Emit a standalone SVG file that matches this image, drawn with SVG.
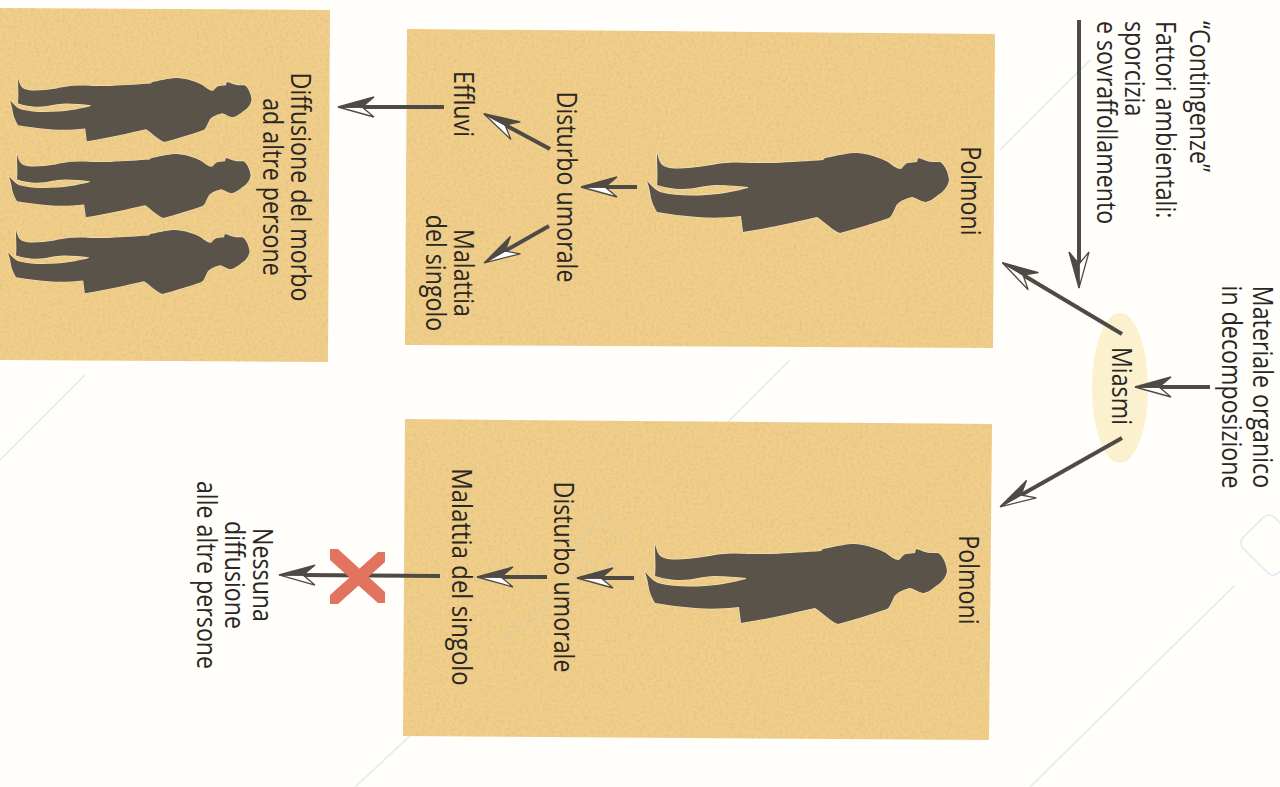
<svg xmlns="http://www.w3.org/2000/svg" width="1280" height="787" viewBox="0 0 1280 787">
<style>
.panel{fill:#f1cf8a;filter:url(#grain)}
.t{font-family:"Open Sans","Noto Sans",sans-serif;font-size:23.2px;fill:#2a2622;text-anchor:middle}
.ts{text-anchor:start}
.c{fill:none;stroke:#4f4a44;stroke-width:4;marker-end:url(#head)}
.wm{fill:none;stroke:#dfeaf1;stroke-width:1.5}
.wmp{fill:none;stroke:#c9d3c0;stroke-width:1.5;opacity:.5}
</style>
<defs>
<filter id="grain" x="0" y="0" width="100%" height="100%">
<feTurbulence type="fractalNoise" baseFrequency="0.35" numOctaves="3" seed="4" result="n"/>
<feColorMatrix in="n" type="matrix" values="0 0 0 0 .62  0 0 0 0 .45  0 0 0 0 .2  0 0 0 .9 -.36" result="g"/>
<feComposite in="g" in2="SourceGraphic" operator="in" result="gc"/>
<feMerge><feMergeNode in="SourceGraphic"/><feMergeNode in="gc"/></feMerge>
</filter>
<marker id="head" markerUnits="userSpaceOnUse" markerWidth="40" markerHeight="26" viewBox="-1 -3 40 26" refX="12" refY="10" orient="auto">
<path d="M36,10 L0,0 L12,10 Z" fill="#fff" stroke="#4f4a44" stroke-width="1.3"/>
<path d="M36,10 L0,20 L12,10 Z" fill="#4f4a44" stroke="#4f4a44" stroke-width="1.3"/>
</marker>
<path id="person" fill="#5a5349" stroke="#f8e8c4" stroke-width="1.2" paint-order="stroke" d="M657,153 C659,160 660,165 666,167 C675,170 690,168 705,166 C725,162 735,162 750,163 L773,163 C790,162 810,161 823,160 L825,158 C840,155 848,153 857,153 C870,154 880,158 888,162 C893,166 897,169 901,169 C904,166 906,163 908,163 L917,162 L918,158 C923,159 928,162 932,162 L940,162 C945,165 948,172 949,180 C948,187 943,192 938,195 C932,200 928,202 925,202 C920,201 916,198 912,197 C904,199 898,202 896,206 C893,212 892,216 889,218 C872,224 855,229 840,233 C832,230 825,222 817,217 C795,222 770,228 743,232 L741,216 C725,218 710,218 697,217 C683,216 670,214 657,212 C653,205 651,200 650,192 C649,187 648,184 647,181 C651,185 655,190 660,192 C675,196 692,196 707,195 C722,194 737,191 748,188 L748,187 C738,186 727,185 717,185 C705,185 695,189 683,189 C672,189 664,187 657,185 C658,175 657,165 657,153 Z"/>
</defs>
<rect width="1280" height="787" fill="#fffefb"/>
<g id="watermark">
<path class="wm" d="M0,460 L85,375 M1000,150 L1090,60 M620,530 L790,360 M1030,787 L1235,585 M355,787 L470,680 M640,215 L700,155 M860,280 L910,230"/>
<rect class="wm" x="1246" y="523" width="50" height="44" rx="8" transform="rotate(45 1271 545)"/>
</g>
<g id="panel-top"><polygon class="panel" points="407,29 995,34 993,348 405,345"/></g>
<g id="panel-bottom"><polygon class="panel" points="405,419 992,424 989,740 403,736"/></g>
<g id="panel-left"><polygon class="panel" points="0,8 330,10 328,362 0,360"/></g>
<g id="watermark-panel">
<rect class="wmp" x="580" y="525" width="44" height="40" rx="8" transform="rotate(-45 602 545)"/>
<path class="wmp" d="M503,640 L580,570"/>
</g>
<g id="person-top"><use href="#person"/></g>
<g id="person-bottom"><use href="#person" transform="translate(-2,391)"/></g>
<g id="people-left">
<use href="#person" transform="translate(-507.6,-44.4) scale(.8)"/>
<use href="#person" transform="translate(-508.6,31.6) scale(.8)"/>
<use href="#person" transform="translate(-509.6,107.6) scale(.8)"/>
</g>
<g id="miasmi"><ellipse cx="1120" cy="388" rx="28" ry="75" fill="#fbf1cf"/><text class="t" transform="translate(1112,386) rotate(90) scale(1,1.15)">Miasmi</text></g>
<g id="connectors">
<line class="c" x1="1079" y1="20" x2="1079" y2="264"/>
<line class="c" x1="1210" y1="387" x2="1159" y2="387"/>
<line class="c" x1="1122" y1="334" x2="1023" y2="275"/>
<line class="c" x1="1122" y1="438" x2="1021" y2="495"/>
<line class="c" x1="637" y1="187" x2="605" y2="187"/>
<line class="c" x1="550" y1="149" x2="505" y2="125"/>
<line class="c" x1="549" y1="226" x2="505" y2="251"/>
<line class="c" x1="444" y1="107" x2="362" y2="107"/>
<line class="c" x1="634" y1="578" x2="601" y2="578"/>
<line class="c" x1="547" y1="577" x2="501" y2="577"/>
<line class="c" x1="440" y1="576" x2="303" y2="575"/>
</g>
<g id="cross" fill="#e2735f">
<polygon points="330,549 338,549 385,592 385,603 378,603 330,560"/>
<polygon points="330,595 378,552 385,552 385,562 338,604 330,604"/>
</g>
<g id="label-contingenze">
<text class="t ts" transform="translate(1190,21) rotate(90) scale(1,1.15)">“Contingenze”</text>
<text class="t ts" transform="translate(1156,21) rotate(90) scale(1,1.15)">Fattori ambientali:</text>
<text class="t ts" transform="translate(1125,21) rotate(90) scale(1,1.15)">sporcizia</text>
<text class="t ts" transform="translate(1097,21) rotate(90) scale(1,1.15)">e sovraffollamento</text>
</g>
<g id="label-materiale">
<text class="t" transform="translate(1253,387) rotate(90) scale(1,1.15)">Materiale organico</text>
<text class="t" transform="translate(1222,387) rotate(90) scale(1,1.15)">in decomposizione</text>
</g>
<g id="labels-top">
<text class="t" transform="translate(961,191) rotate(90) scale(1,1.15)">Polmoni</text>
<text class="t" transform="translate(557,187) rotate(90) scale(1,1.15)">Disturbo umorale</text>
<text class="t" transform="translate(454,104) rotate(90) scale(1,1.15)">Effluvi</text>
<text class="t" transform="translate(454,273) rotate(90) scale(1,1.15)">Malattia</text>
<text class="t" transform="translate(426,273) rotate(90) scale(1,1.15)">del singolo</text>
</g>
<g id="labels-left">
<text class="t" transform="translate(291,187) rotate(90) scale(1,1.15)">Diffusione del morbo</text>
<text class="t" transform="translate(263,187) rotate(90) scale(1,1.15)">ad altre persone</text>
</g>
<g id="labels-bottom">
<text class="t" transform="translate(959,580) rotate(90) scale(1,1.15)">Polmoni</text>
<text class="t" transform="translate(554,577) rotate(90) scale(1,1.15)">Disturbo umorale</text>
<text class="t" style="font-size:24px" transform="translate(452,577) rotate(90) scale(1,1.11)">Malattia del singolo</text>
<text class="t" transform="translate(253,575) rotate(90) scale(1,1.15)">Nessuna</text>
<text class="t" transform="translate(225,575) rotate(90) scale(1,1.15)">diffusione</text>
<text class="t" transform="translate(197,575) rotate(90) scale(1,1.15)">alle altre persone</text>
</g>
</svg>
